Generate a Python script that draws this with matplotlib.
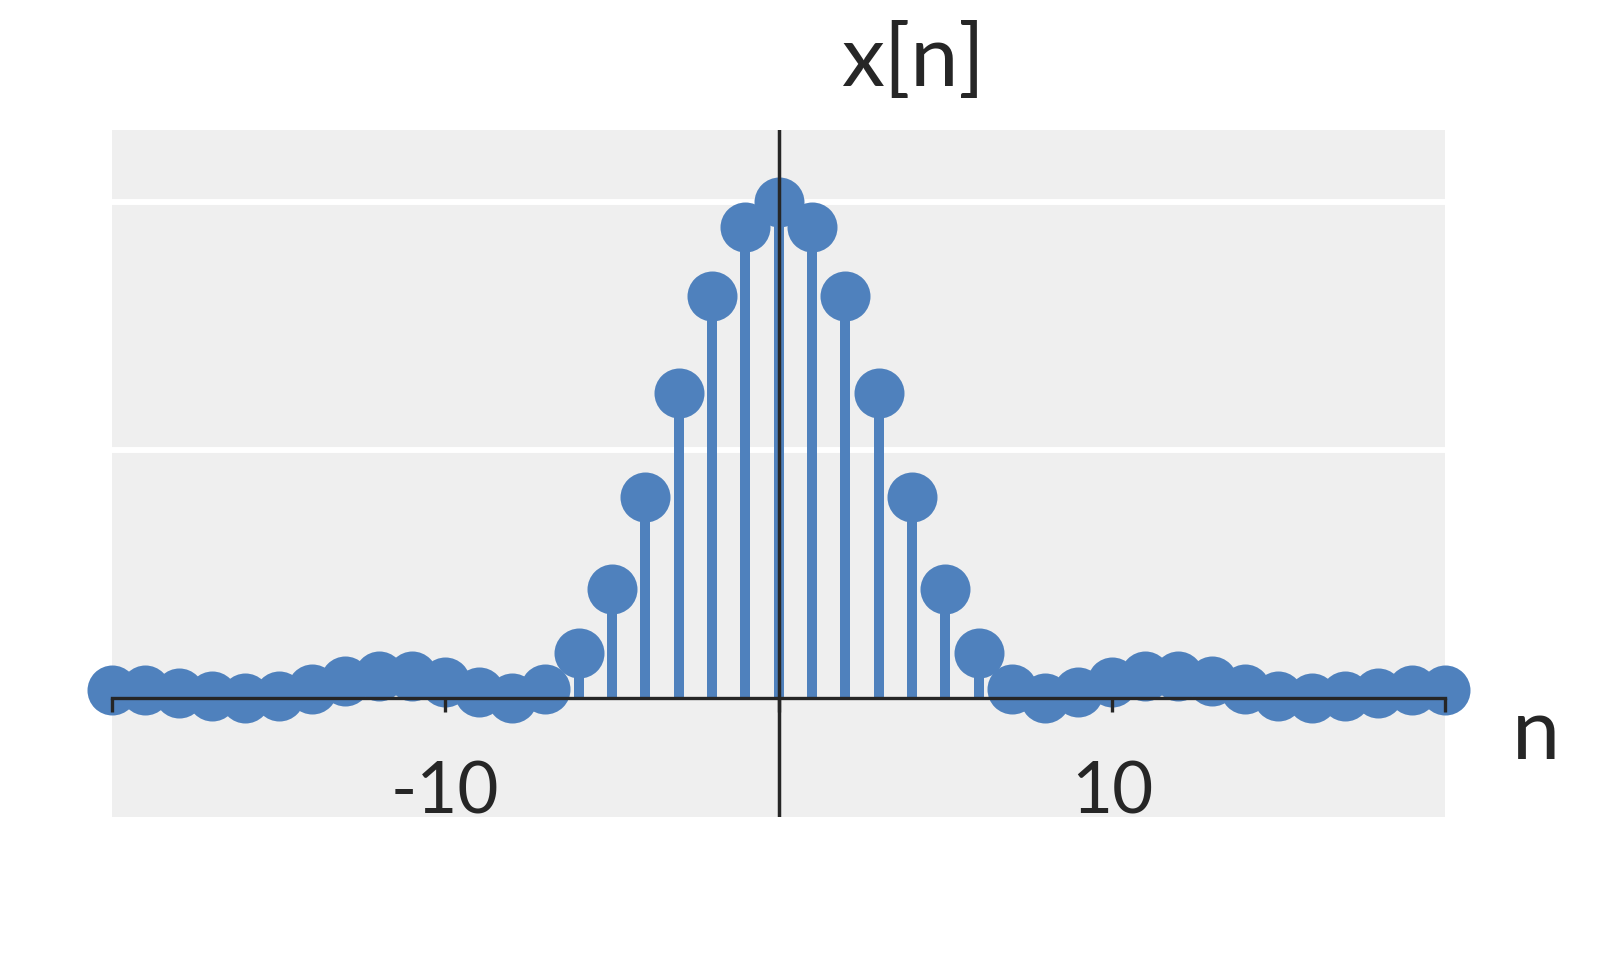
import matplotlib
matplotlib.use("Agg")
import matplotlib.pyplot as plt
import numpy as np

plt.rcParams['font.family'] = ['Lato', 'DejaVu Sans']

# Data
n_values = list(range(-20, 21))
x_values = [0.016, 0.016, 0.010, 0.003, 0.0, 0.004, 0.017, 0.034, 0.045, 0.045,
            0.032, 0.012, 0.0, 0.017, 0.09, 0.22, 0.405, 0.615, 0.81, 0.95,
            1.0,
            0.95, 0.81, 0.615, 0.405, 0.22, 0.09, 0.017, 0.0, 0.012, 0.032,
            0.045, 0.045, 0.034, 0.017, 0.004, 0.0, 0.003, 0.010, 0.016, 0.016]
tick_positions = [-20, -10, 0, 10, 20]
tick_labels = ['', '-10', '', '10', '']
title_text = 'x[n]'
xlabel_text = 'n'

blue = '#4f81bd'
dark = '#262626'
bg = '#efefef'

fig = plt.figure(figsize=(15.98, 9.6), dpi=100)
ax = fig.add_axes([0.0701, 0.1490, 0.9043 - 0.0701, 0.8646 - 0.1490])
ax.set_facecolor(bg)

markerline, stemlines, baseline = ax.stem(n_values, x_values)
plt.setp(stemlines, color=blue, linewidth=7.2, zorder=2)
plt.setp(markerline, color=blue, marker='o', markersize=36, markeredgewidth=0,
         zorder=3, clip_on=False)
baseline.set_visible(False)

ax.set_xlim(-20, 20)
ax.set_ylim(-0.24, 1.145)

# spines
for s in ['top', 'right', 'left']:
    ax.spines[s].set_visible(False)
ax.spines['bottom'].set_position(('data', 0))
ax.spines['bottom'].set_color(dark)
ax.spines['bottom'].set_linewidth(2.4)
ax.spines['bottom'].set_zorder(4)
ax.axvline(0, color=dark, linewidth=2.5, zorder=4)

# grid
ax.set_yticks([0.5, 1.0])
ax.yaxis.grid(True, color='white', linewidth=4.3)
ax.tick_params(axis='y', left=False, labelleft=False)
ax.xaxis.grid(False)

ax.set_xticks(tick_positions)
ax.set_xticklabels(tick_labels)
ax.tick_params(axis='x', direction='out', length=10, width=2.4, color=dark,
               labelsize=51, labelcolor=dark, pad=35)
ax.xaxis.set_zorder(4)

fig.text(0.5713, 0.9104, title_text, ha='center', va='baseline', fontsize=62, color=dark)
fig.text(0.9612, 0.2094, xlabel_text, ha='center', va='baseline', fontsize=62, color=dark)

fig.savefig('out.png', dpi=100, facecolor='white')
